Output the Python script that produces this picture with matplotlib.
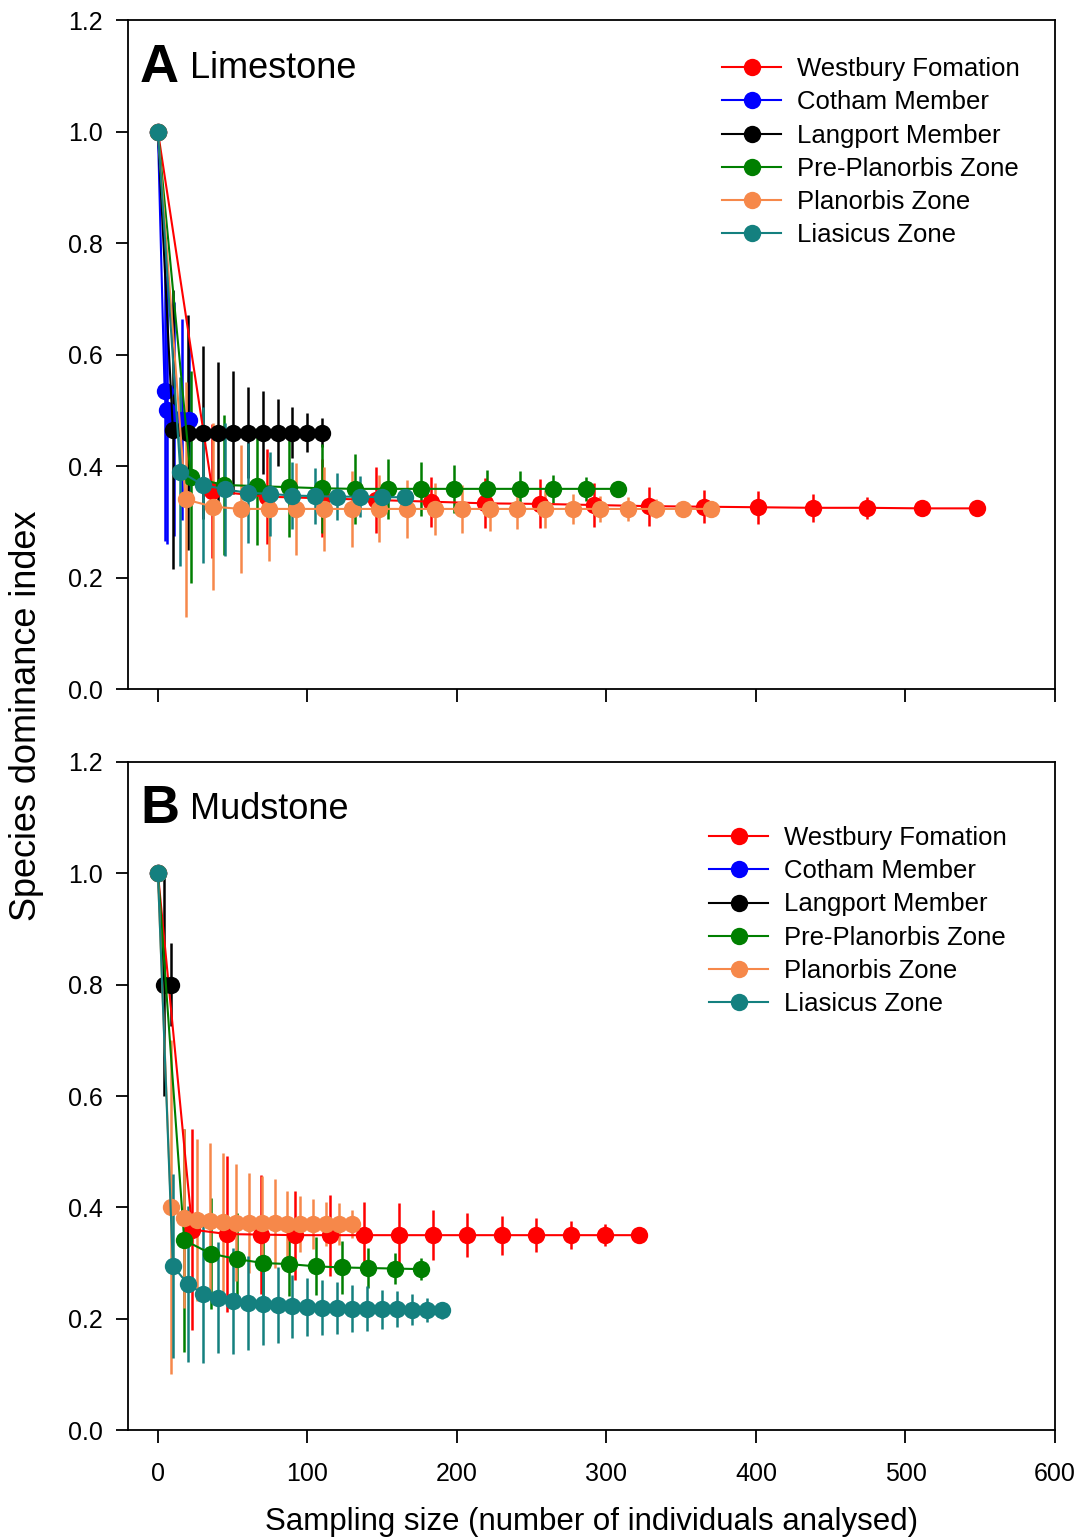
# 종 우점도 지수 vs 표본 크기 — (A) 석회암 / (B) 이암
import matplotlib.pyplot as plt
from matplotlib.ticker import FormatStrFormatter

plt.rcParams['font.family'] = ['Liberation Sans', 'DejaVu Sans']

# ===== 데이터 =====
labels = ['Westbury Fomation', 'Cotham Member', 'Langport Member',
          'Pre-Planorbis Zone', 'Planorbis Zone', 'Liasicus Zone']
colors = ['#ff0000', '#0000ff', '#000000', '#007f00', '#f6884a', '#14807f']

# (A) Limestone
red_A_x = [0, 36.5, 73, 109.5, 146, 182.5, 219, 255.5, 292, 328.5, 365, 401.5, 438, 474.5, 511, 547.5]
red_A_y = [1.0, 0.355, 0.345, 0.342, 0.339, 0.336, 0.333, 0.332, 0.330, 0.328, 0.327, 0.326, 0.325, 0.325, 0.324, 0.324]
red_A_e = [0, 0.12, 0.085, 0.07, 0.06, 0.045, 0.045, 0.044, 0.04, 0.035, 0.03, 0.03, 0.025, 0.02, 0.012, 0.0]

blue_A_x = [0, 4.5, 6, 11, 16, 21]
blue_A_y = [1.0, 0.535, 0.50, 0.485, 0.483, 0.482]
blue_A_e = [0, 0.27, 0.24, 0.21, 0.18, 0.14]

black_A_x = [0, 10, 20, 30, 40, 50, 60, 70, 80, 90, 100, 110]
black_A_y = [1.0, 0.465, 0.46, 0.46, 0.46, 0.46, 0.46, 0.46, 0.46, 0.46, 0.46, 0.46]
black_A_e = [0, 0.25, 0.21, 0.155, 0.126, 0.11, 0.082, 0.075, 0.06, 0.046, 0.035, 0.026]

green_A_x = [0, 22, 44, 66, 88, 110, 132, 154, 176, 198, 220, 242, 264, 286, 308]
green_A_y = [1.0, 0.38, 0.366, 0.364, 0.362, 0.36, 0.359, 0.359, 0.359, 0.359, 0.359, 0.359, 0.359, 0.359, 0.359]
green_A_e = [0, 0.19, 0.125, 0.105, 0.09, 0.08, 0.063, 0.054, 0.048, 0.043, 0.034, 0.032, 0.025, 0.021, 0.0]

orange_A_x = [0, 18.5, 37, 55.5, 74, 92.5, 111, 129.5, 148, 166.5, 185, 203.5, 222, 240.5, 259,
              277.5, 296, 314.5, 333, 351.5, 370]
orange_A_y = [1.0, 0.34, 0.327, 0.323, 0.323, 0.323, 0.323, 0.323, 0.323, 0.323, 0.323, 0.323,
              0.323, 0.323, 0.323, 0.323, 0.323, 0.323, 0.323, 0.323, 0.323]
orange_A_e = [0, 0.21, 0.15, 0.115, 0.093, 0.083, 0.075, 0.068, 0.06, 0.052, 0.046, 0.043, 0.04,
              0.036, 0.034, 0.027, 0.024, 0.022, 0.017, 0.012, 0.008]

teal_A_x = [0, 15, 30, 45, 60, 75, 90, 105, 120, 135, 150, 165]
teal_A_y = [1.0, 0.39, 0.366, 0.358, 0.352, 0.35, 0.347, 0.346, 0.345, 0.345, 0.344, 0.344]
teal_A_e = [0, 0.17, 0.14, 0.12, 0.09, 0.075, 0.06, 0.05, 0.042, 0.037, 0.022, 0.014]

# (B) Mudstone
red_B_x = [0, 23, 46, 69, 92, 115, 138, 161, 184, 207, 230, 253, 276, 299, 322]
red_B_y = [1.0, 0.36, 0.352, 0.351, 0.35, 0.35, 0.35, 0.35, 0.35, 0.35, 0.35, 0.35, 0.35, 0.35, 0.35]
red_B_e = [0, 0.18, 0.14, 0.107, 0.08, 0.073, 0.06, 0.057, 0.045, 0.04, 0.035, 0.03, 0.025, 0.02, 0.0]

blue_B_x = [0]
blue_B_y = [1.0]
blue_B_e = [0]

black_B_x = [0, 4, 9]
black_B_y = [1.0, 0.80, 0.80]
black_B_e = [0, 0.2, 0.075]

green_B_x = [0, 17.6, 35.2, 52.8, 70.4, 88, 105.6, 123.2, 140.8, 158.4, 176]
green_B_y = [1.0, 0.341, 0.317, 0.307, 0.30, 0.298, 0.294, 0.292, 0.291, 0.29, 0.289]
green_B_e = [0, 0.2, 0.10, 0.083, 0.064, 0.057, 0.052, 0.048, 0.036, 0.028, 0.02]

orange_B_x = [0, 8.67, 17.33, 26, 34.67, 43.33, 52, 60.67, 69.33, 78, 86.67, 95.33, 104, 112.67, 121.33, 130]
orange_B_y = [1.0, 0.40, 0.38, 0.377, 0.375, 0.373, 0.372, 0.372, 0.371, 0.371, 0.37, 0.37, 0.37, 0.37, 0.37, 0.37]
orange_B_e = [0, 0.30, 0.16, 0.145, 0.14, 0.125, 0.105, 0.09, 0.085, 0.08, 0.06, 0.05, 0.045, 0.04, 0.037, 0.025]

teal_B_x = [0, 10, 20, 30, 40, 50, 60, 70, 80, 90, 100, 110, 120, 130, 140, 150, 160, 170, 180, 190]
teal_B_y = [1.0, 0.295, 0.262, 0.245, 0.238, 0.232, 0.228, 0.226, 0.224, 0.222, 0.221, 0.220, 0.219,
            0.218, 0.218, 0.217, 0.217, 0.216, 0.216, 0.215]
teal_B_e = [0, 0.165, 0.14, 0.125, 0.10, 0.095, 0.085, 0.074, 0.068, 0.057, 0.052, 0.05, 0.046, 0.042,
            0.04, 0.035, 0.032, 0.028, 0.022, 0.015]

series_A = [(red_A_x, red_A_y, red_A_e), (blue_A_x, blue_A_y, blue_A_e), (black_A_x, black_A_y, black_A_e),
            (green_A_x, green_A_y, green_A_e), (orange_A_x, orange_A_y, orange_A_e), (teal_A_x, teal_A_y, teal_A_e)]
series_B = [(red_B_x, red_B_y, red_B_e), (blue_B_x, blue_B_y, blue_B_e), (black_B_x, black_B_y, black_B_e),
            (green_B_x, green_B_y, green_B_e), (orange_B_x, orange_B_y, orange_B_e), (teal_B_x, teal_B_y, teal_B_e)]

# ===== 그림 =====
W, H = 1087, 1540
fig = plt.figure(figsize=(W / 100, H / 100), dpi=100)


def px_axes(left, top, right, bottom):
    return fig.add_axes([left / W, 1 - bottom / H, (right - left) / W, (bottom - top) / H])


def draw_panel(ax, series, letter, name, letter_y, leg_left, leg_top, show_xlabels):
    handles = []
    for (x, y, e), c in zip(series, colors):
        cont = ax.errorbar(x, y, yerr=e, fmt='-o', color=c, ecolor=c, lw=1.5, elinewidth=1.8,
                           markersize=12.5, markeredgewidth=0, capsize=0)
        handles.append(cont[0])
    ax.set_xlim(-20, 600)
    ax.set_ylim(0, 1.2)
    ax.set_xticks(range(0, 601, 100))
    ax.set_yticks([0, 0.2, 0.4, 0.6, 0.8, 1.0, 1.2])
    ax.yaxis.set_major_formatter(FormatStrFormatter('%.1f'))
    ax.tick_params(direction='out', length=9, width=1.3, labelsize=18, pad=9)
    if not show_xlabels:
        ax.tick_params(axis='x', labelbottom=False)
    else:
        ax.tick_params(axis='x', pad=14)
    for s in ax.spines.values():
        s.set_linewidth(1.3)
    ax.legend(handles, labels, loc='upper left', bbox_to_anchor=(leg_left / W, 1 - leg_top / H),
              bbox_transform=fig.transFigure, frameon=False, fontsize=18.5, borderpad=0,
              borderaxespad=0, handlelength=2.3, handletextpad=0.6, labelspacing=0.36)
    fig.text(140 / W, 1 - letter_y / H, letter, fontsize=39, fontweight='bold', va='baseline')
    fig.text(190 / W, 1 - (letter_y - 4) / H, name, fontsize=26, va='baseline')


ax1 = px_axes(128, 20, 1055, 689)
draw_panel(ax1, series_A, 'A', 'Limestone', 82, 722, 57, False)

ax2 = px_axes(128, 762, 1055, 1430)
draw_panel(ax2, series_B, 'B', 'Mudstone', 823, 709, 826, True)

fig.text(27 / W, 1 - 716 / H, 'Species dominance index', rotation=90, fontsize=26,
         ha='center', va='center')
fig.text(592 / W, 1 - 1522 / H, 'Sampling size (number of individuals analysed)', fontsize=22.5,
         ha='center', va='center')

plt.savefig('out.png', dpi=100)
